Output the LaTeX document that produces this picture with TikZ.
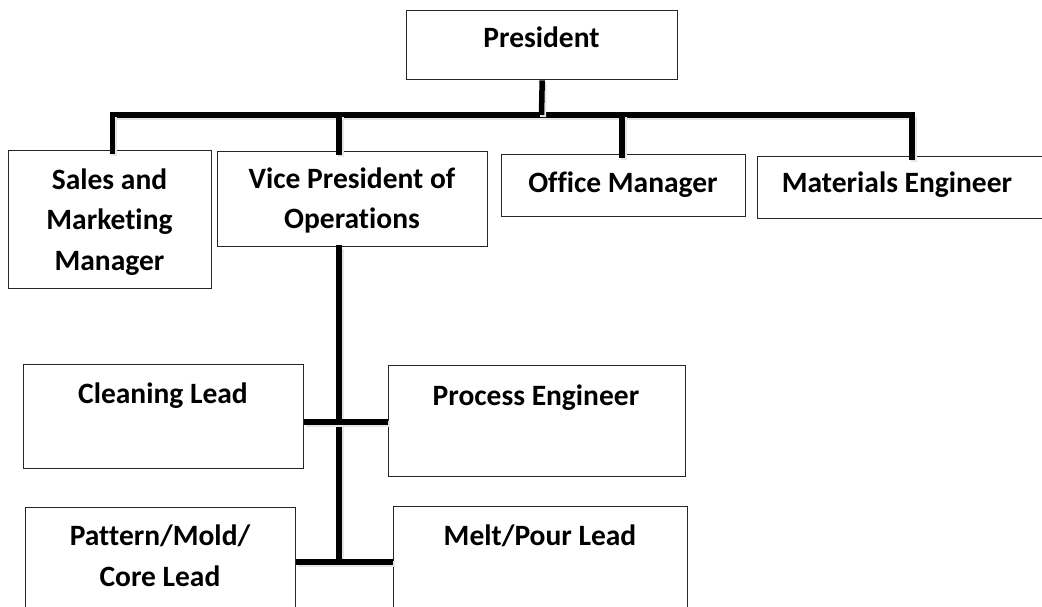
\documentclass[tikz,border=0pt]{standalone}
\usepackage{fontspec}
\setmainfont{Carlito}[RawFeature=-liga]
\begin{document}
\begin{tikzpicture}[x=1pt,y=-1pt,
  box/.style={draw=black!85, line width=1.4pt, fill=white, inner sep=0pt, anchor=north west},
  lbl/.style={font=\bfseries\fontsize{29.5}{40.5}\selectfont, align=center, inner sep=0pt, anchor=base},
  conn/.style={draw=black, line width=5.5pt,
    preaction={draw=black!10, line width=6pt, transform canvas={shift={(1.5pt,-2pt)}}}}]
\useasboundingbox (0,0) rectangle (1042,607);
\clip (0,0) rectangle (1042,607);
\fill[white] (0,0) rectangle (1042,607);

% boxes
\node[box, minimum width=271pt, minimum height=69pt]  (pres)  at (406,10) {};
\node[box, minimum width=203pt, minimum height=138pt] (sales) at (8,150) {};
\node[box, minimum width=270pt, minimum height=95pt]  (vp)    at (217,151) {};
\node[box, minimum width=244pt, minimum height=62pt]  (om)    at (501,154) {};
\node[box, minimum width=300pt, minimum height=62pt]  (mat)   at (757,156) {};
\node[box, minimum width=280pt, minimum height=104pt] (clean) at (23,364) {};
\node[box, minimum width=297pt, minimum height=111pt] (proc)  at (388,365) {};
\node[box, minimum width=270pt, minimum height=130pt] (pat)   at (25,507) {};
\node[box, minimum width=294pt, minimum height=130pt] (melt)  at (393,506) {};

% labels (anchor=base sits on the last line)
\node[lbl] (tpres)  at (541.5,48) {President};
\node[lbl] (tsales) at (109.5,270) {Sales and\\Marketing\\Manager};
\node[lbl] (tvp)    at (352,229) {Vice President of\\Operations};
\node[lbl] (tom)    at (623,193) {Office Manager};
\node[lbl] (tmat)   at (897,193) {Materials Engineer};
\node[lbl] (tclean) at (163,403) {Cleaning Lead};
\node[lbl] (tproc)  at (536,405) {Process Engineer};
\node[lbl] (tpat)   at (160,586) {Pattern/Mold/\\Core Lead};
\node[lbl] (tmelt)  at (540,545) {Melt/Pour Lead};

% bus coordinates
\coordinate (busL) at (112.5,115);
\coordinate (busR) at (912,115);
\coordinate (busP) at (541.5,115);
\coordinate (busV) at (339,115);
\coordinate (busO) at (622,115);
\coordinate (j1) at (339,422);
\coordinate (j2) at (339,562);

% connectors
\draw[conn, line cap=rect] (busL) -- (busR);
\draw[conn] (pres.south) -- (busP);
\draw[conn, shorten >=-4pt] (busL) -- (busL |- sales.north);
\draw[conn, shorten >=-4pt] (busV) -- (busV |- vp.north);
\draw[conn, shorten >=-4pt] (busO) -- (busO |- om.north);
\draw[conn, shorten >=-4pt] (busR) -- (busR |- mat.north);
\draw[conn, line cap=rect] (j1 |- vp.south) -- (j2);
\draw[conn] (clean.east |- j1) -- (proc.west |- j1);
\draw[conn] (pat.east |- j2) -- (melt.west |- j2);
\end{tikzpicture}
\end{document}
